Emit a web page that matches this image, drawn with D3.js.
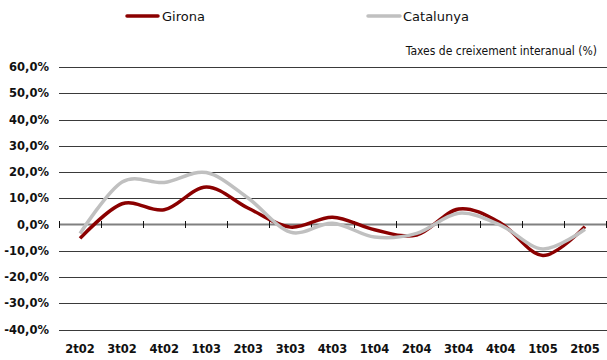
<!DOCTYPE html>
<html>
<head>
<meta charset="utf-8">
<script src="https://cdn.jsdelivr.net/npm/d3@7"></script>
<style>
  html, body { margin: 0; padding: 0; background: #fff; }
  svg { display: block; }
</style>
</head>
<body>
<svg id="chart" width="607" height="360"></svg>
<script>
// Quarterly categories (trimestres)
const quarters = ["2t02", "3t02", "4t02", "1t03", "2t03", "3t03", "4t03",
                  "1t04", "2t04", "3t04", "4t04", "1t05", "2t05"];

// Year-on-year growth rates, %
const girona    = [-5.3, 7.9, 5.6, 14.3, 6.2, -1.0, 2.8, -2.0, -4.0, 5.9, 0.5, -11.8, -0.8];
const catalunya = [-3.4, 16.2, 16.0, 19.8, 10.0, -2.9, 0.5, -4.8, -3.4, 4.3, -0.3, -9.3, -1.8];

// Y axis ticks, %
const yTicks = [60, 50, 40, 30, 20, 10, 0, -10, -20, -30, -40];

const seriesNames = ["Girona", "Catalunya"];
const seriesColors = ["#8b0000", "#c0c0c0"];

const svg = d3.select("#chart");
const labelFont = "'DejaVu Sans', sans-serif";

const x = d3.scaleBand().domain(quarters).range([59, 606]).paddingInner(0).paddingOuter(0);
const y = d3.scaleLinear().domain([-40, 60]).range([329.5, 67]);

const fmt = v => d3.format(".1f")(v).replace(".", ",").replace("−", "-") + "%";

// Horizontal gridlines
svg.append("g")
  .selectAll("line")
  .data(yTicks.filter(d => d !== 0))
  .join("line")
  .attr("x1", 59).attr("x2", 607)
  .attr("y1", d => Math.round(y(d)) + 0.5).attr("y2", d => Math.round(y(d)) + 0.5)
  .attr("stroke", "#3a3a3a").attr("stroke-width", 1);

// Y tick labels
svg.append("g")
  .selectAll("text")
  .data(yTicks)
  .join("text")
  .attr("x", 49)
  .attr("y", d => y(d))
  .attr("dy", "0.36em")
  .attr("text-anchor", "end")
  .attr("font-family", labelFont)
  .attr("font-weight", "bold")
  .attr("font-size", "11.5px")
  .attr("fill", "#111")
  .text(fmt);

// Category axis on the zero line
const y0 = y(0);
svg.append("line")
  .attr("x1", 59).attr("x2", 607)
  .attr("y1", y0).attr("y2", y0)
  .attr("stroke", "#808080").attr("stroke-width", 2);

const boundaries = quarters.map(q => x(q)).concat([x(quarters[quarters.length - 1]) + x.bandwidth()]);
svg.append("g")
  .selectAll("line")
  .data(boundaries)
  .join("line")
  .attr("x1", d => Math.round(d) + 0.5).attr("x2", d => Math.round(d) + 0.5)
  .attr("y1", y0 - 3.5).attr("y2", y0 + 3.5)
  .attr("stroke", "#111").attr("stroke-width", 1);

// X labels along the bottom
svg.append("g")
  .selectAll("text")
  .data(quarters)
  .join("text")
  .attr("x", d => x(d) + x.bandwidth() / 2)
  .attr("y", 353)
  .attr("text-anchor", "middle")
  .attr("font-family", labelFont)
  .attr("font-weight", "bold")
  .attr("font-size", "11.5px")
  .attr("fill", "#111")
  .text(d => d);

// Smoothed series lines
const line = d3.line()
  .x((d, i) => x(quarters[i]) + x.bandwidth() / 2)
  .y(d => y(d))
  .curve(d3.curveCardinal.tension(0));

[girona, catalunya].forEach((vals, k) => {
  svg.append("path")
    .datum(vals)
    .attr("d", line)
    .attr("fill", "none")
    .attr("stroke", seriesColors[k])
    .attr("stroke-width", 3.5)
    .attr("stroke-linejoin", "round")
    .attr("stroke-linecap", "butt");
});

// Legend
const legendPos = [{x1: 127, x2: 158, tx: 162}, {x1: 368, x2: 400, tx: 403}];
seriesNames.forEach((name, k) => {
  const p = legendPos[k];
  svg.append("line")
    .attr("x1", p.x1).attr("x2", p.x2)
    .attr("y1", 16).attr("y2", 16)
    .attr("stroke", seriesColors[k]).attr("stroke-width", 3.5)
    .attr("stroke-linecap", "round");
  svg.append("text")
    .attr("x", p.tx).attr("y", 16)
    .attr("dy", "0.36em")
    .attr("font-family", labelFont)
    .attr("font-size", "13px")
    .attr("fill", "#111")
    .text(name);
});

// Unit note
svg.append("text")
  .attr("x", 597).attr("y", 51)
  .attr("dy", "0.36em")
  .attr("text-anchor", "end")
  .attr("font-family", "'Liberation Sans Narrow', 'DejaVu Sans Condensed', sans-serif")
  .attr("font-size", "12px")
  .attr("fill", "#111")
  .text("Taxes de creixement interanual (%)");
</script>
</body>
</html>
